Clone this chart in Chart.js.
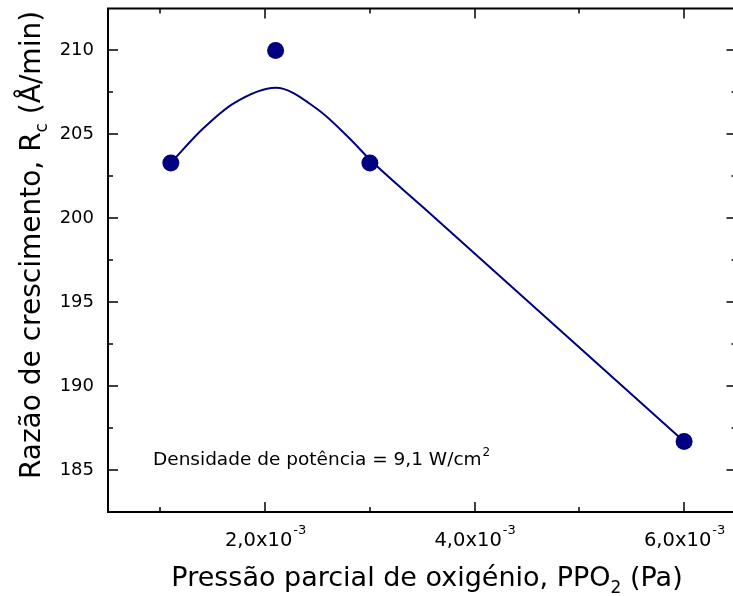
<!DOCTYPE html>
<html lang="pt">
<head>
<meta charset="UTF-8">
<title>Razão de crescimento vs PPO2</title>
<script src="https://cdn.jsdelivr.net/npm/chart.js"></script>
<style>
    html, body { margin: 0; padding: 0; background: #fff; overflow: hidden; }
    #wrap { width: 745px; height: 596px; }
</style>
</head>
<body>
<div id="wrap"><canvas id="chart" width="745" height="596"></canvas></div>
<script>
// medidas: PPO2 (Pa) e razão de crescimento Rc (Å/min)
const ppo2 = [0.0011, 0.0021, 0.0030, 0.0060];
const rc = [203.3, 210.0, 203.3, 186.7];

// curva de ajuste
const fitX = [0.0011, 0.0014, 0.0017, 0.0021, 0.0025, 0.0028, 0.0030, 0.0035, 0.0045, 0.0060];
const fitY = [203.3, 205.3, 206.85, 207.78, 206.5, 204.8, 203.5, 200.7, 195.1, 186.7];

// eixos
const xMajor = [0.002, 0.004, 0.006];
const xMajorLabels = ['2,0x10', '4,0x10', '6,0x10'];
const xExponent = '-3';
const xMinor = [0.001, 0.003, 0.005];
const yMajor = [185, 190, 195, 200, 205, 210];
const yMajorLabels = ['185', '190', '195', '200', '205', '210'];
const yMinor = [187.5, 192.5, 197.5, 202.5, 207.5];

const FONT = '"DejaVu Sans", Verdana, sans-serif';
const NAVY = '#000080';

const frame = {
    id: 'frame',
    afterDraw(chart) {
        const { ctx, chartArea: a, scales: { x, y } } = chart;
        ctx.save();
        ctx.strokeStyle = '#000';
        ctx.fillStyle = '#000';

        ctx.lineWidth = 2;
        ctx.strokeRect(a.left, a.top, a.right - a.left, a.bottom - a.top);

        const line = (x1, y1, x2, y2) => {
            ctx.beginPath(); ctx.moveTo(x1, y1); ctx.lineTo(x2, y2); ctx.stroke();
        };
        ctx.lineWidth = 1.5;
        const xt = (vals, len) => vals.forEach(v => {
            const px = Math.round(x.getPixelForValue(v));
            line(px, a.bottom, px, a.bottom - len);
            line(px, a.top, px, a.top + len);
        });
        const yt = (vals, len) => vals.forEach(v => {
            const py = Math.round(y.getPixelForValue(v));
            line(a.left, py, a.left + len, py);
            line(a.right, py, a.right - len, py);
        });
        xt(xMajor, 10); xt(xMinor, 5);
        yt(yMajor, 10); yt(yMinor, 5);

        // rótulos do eixo y
        ctx.font = '18px ' + FONT;
        ctx.textAlign = 'right';
        ctx.textBaseline = 'middle';
        yMajor.forEach((v, i) => ctx.fillText(yMajorLabels[i], a.left - 14, y.getPixelForValue(v)));

        // rótulos do eixo x com expoente
        ctx.textBaseline = 'alphabetic';
        ctx.textAlign = 'left';
        xMajor.forEach((v, i) => {
            ctx.font = '19.5px ' + FONT;
            const w1 = ctx.measureText(xMajorLabels[i]).width;
            ctx.font = '13px ' + FONT;
            const w2 = ctx.measureText(xExponent).width;
            const left = x.getPixelForValue(v) - (w1 + w2) / 2;
            ctx.font = '19.5px ' + FONT;
            ctx.fillText(xMajorLabels[i], left, a.bottom + 34);
            ctx.font = '13px ' + FONT;
            ctx.fillText(xExponent, left + w1 + 1, a.bottom + 22);
        });

        // título do eixo x
        const xParts = [['Pressão parcial de oxigénio, PPO', 27, 0], ['2', 17, 7], [' (Pa)', 27, 0]];
        drawParts(ctx, xParts, 427, a.bottom + 74);

        // título do eixo y
        ctx.save();
        ctx.translate(40, 245);
        ctx.rotate(-Math.PI / 2);
        const yParts = [['Razão de crescimento, R', 28, 0], ['c', 17, 7], [' (Å/min)', 28, 0]];
        drawParts(ctx, yParts, 0, 0);
        ctx.restore();

        // anotação
        ctx.textAlign = 'left';
        ctx.font = '18.5px ' + FONT;
        const note = 'Densidade de potência = 9,1 W/cm';
        const nx = a.left + 45, ny = y.getPixelForValue(185.3);
        ctx.fillText(note, nx, ny);
        const nw = ctx.measureText(note).width;
        ctx.font = '12px ' + FONT;
        ctx.fillText('2', nx + nw + 1, ny - 9);

        ctx.restore();
    }
};

function drawParts(ctx, parts, cx, baseY) {
    ctx.textAlign = 'left';
    ctx.textBaseline = 'alphabetic';
    let total = 0;
    parts.forEach(p => { ctx.font = p[1] + 'px ' + FONT; total += ctx.measureText(p[0]).width; });
    let px = cx - total / 2;
    parts.forEach(p => {
        ctx.font = p[1] + 'px ' + FONT;
        ctx.fillText(p[0], px, baseY + p[2]);
        px += ctx.measureText(p[0]).width;
    });
}

new Chart(document.getElementById('chart'), {
    type: 'scatter',
    data: {
        datasets: [
            {
                label: 'ajuste',
                data: fitX.map((v, i) => ({ x: v, y: fitY[i] })),
                showLine: true,
                borderColor: NAVY,
                borderWidth: 2,
                pointRadius: 0,
                cubicInterpolationMode: 'monotone',
                fill: false
            },
            {
                label: 'Rc',
                data: ppo2.map((v, i) => ({ x: v, y: rc[i] })),
                backgroundColor: NAVY,
                borderWidth: 0,
                pointRadius: 8.5
            }
        ]
    },
    options: {
        responsive: false,
        animation: false,
        devicePixelRatio: 1,
        layout: { padding: { top: 8, right: 8, left: 0, bottom: 0 } },
        plugins: { legend: { display: false }, tooltip: { enabled: false } },
        scales: {
            x: {
                type: 'linear',
                min: 0.0005,
                max: 0.0065,
                grid: { display: false },
                border: { display: false },
                ticks: { display: false },
                afterFit: s => { s.height = 84; }
            },
            y: {
                min: 182.5,
                max: 212.5,
                grid: { display: false },
                border: { display: false },
                ticks: { display: false },
                afterFit: s => { s.width = 108; }
            }
        }
    },
    plugins: [frame]
});
</script>
</body>
</html>
